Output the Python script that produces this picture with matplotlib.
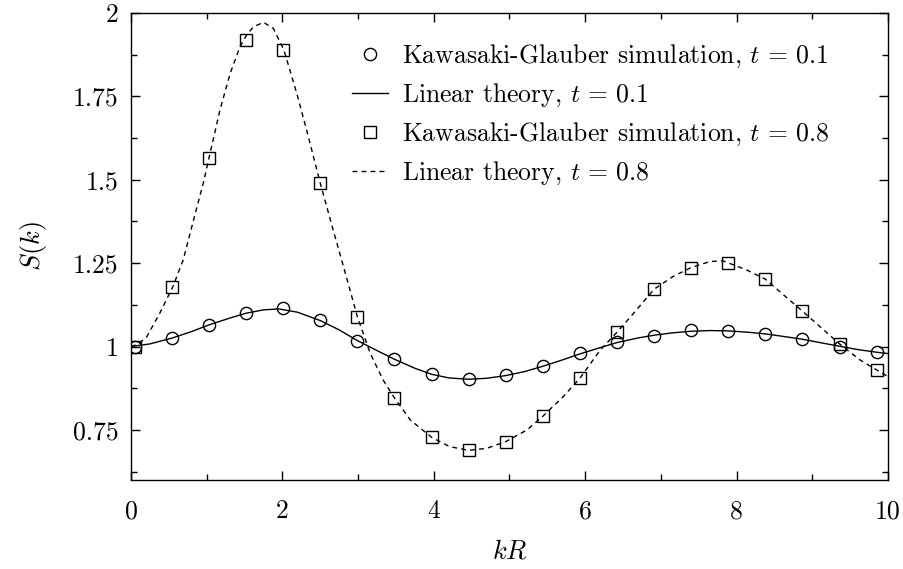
import matplotlib
matplotlib.use("Agg")
import matplotlib.pyplot as plt
from matplotlib.ticker import MultipleLocator

plt.rcParams['font.family'] = 'serif'
plt.rcParams['font.serif'] = ['cmr10']
plt.rcParams['mathtext.fontset'] = 'cm'
plt.rcParams['axes.unicode_minus'] = False
plt.rcParams['axes.formatter.use_mathtext'] = True

# simulation points
k_sim = [0.05, 0.54, 1.03, 1.52, 2.01, 2.50, 2.99, 3.48, 3.97, 4.46, 4.95,
         5.44, 5.93, 6.42, 6.91, 7.40, 7.89, 8.38, 8.87, 9.36, 9.85]
s_sim_01 = [1.0, 1.027, 1.066, 1.101, 1.115, 1.079, 1.016, 0.962, 0.917, 0.903, 0.915,
            0.941, 0.980, 1.013, 1.032, 1.050, 1.046, 1.039, 1.023, 1.0, 0.983]
s_sim_08 = [1.0, 1.178, 1.565, 1.919, 1.889, 1.49, 1.090, 0.846, 0.728, 0.689, 0.715,
            0.791, 0.905, 1.043, 1.172, 1.237, 1.250, 1.202, 1.106, 1.008, 0.929]

# linear theory curves
k_th_01 = [0.0, 0.25, 0.55, 0.8, 1.03, 1.3, 1.52, 1.75, 1.95, 2.2, 2.5, 2.75, 2.99,
           3.25, 3.48, 3.75, 3.97, 4.2, 4.46, 4.7, 4.95, 5.2, 5.44, 5.7, 5.93, 6.2,
           6.42, 6.7, 6.91, 7.15, 7.40, 7.65, 7.89, 8.15, 8.38, 8.6, 8.87, 9.1, 9.36,
           9.6, 9.85, 10.0]
s_th_01 = [1.0, 1.008, 1.026, 1.045, 1.065, 1.085, 1.100, 1.110, 1.113, 1.103, 1.078,
           1.050, 1.018, 0.988, 0.962, 0.935, 0.917, 0.906, 0.902, 0.905, 0.913, 0.925,
           0.941, 0.960, 0.978, 0.997, 1.012, 1.026, 1.034, 1.041, 1.046, 1.048, 1.047,
           1.043, 1.038, 1.031, 1.022, 1.012, 1.001, 0.991, 0.983, 0.979]

k_th_08 = [0.0, 0.1, 0.21, 0.38, 0.55, 0.69, 0.85, 0.955, 1.03, 1.175, 1.31, 1.44,
           1.53, 1.62, 1.75, 1.88, 2.02, 2.19, 2.32, 2.50, 2.67, 2.85, 2.99, 3.16,
           3.33, 3.48, 3.69, 3.97, 4.21, 4.46, 4.70, 4.95, 5.23, 5.44, 5.71, 5.93,
           6.20, 6.42, 6.64, 6.91, 7.16, 7.40, 7.65, 7.82, 8.13, 8.38, 8.62, 8.87,
           9.10, 9.36, 9.63, 9.85, 10.0]
s_th_08 = [1.0, 1.008, 1.03, 1.10, 1.178, 1.26, 1.40, 1.49, 1.565, 1.709, 1.819, 1.899,
           1.935, 1.959, 1.972, 1.954, 1.889, 1.759, 1.649, 1.49, 1.35, 1.205, 1.09,
           0.98, 0.90, 0.846, 0.78, 0.728, 0.70, 0.689, 0.695, 0.715, 0.75, 0.791,
           0.85, 0.905, 0.99, 1.043, 1.10, 1.172, 1.21, 1.237, 1.255, 1.257, 1.23,
           1.202, 1.155, 1.106, 1.06, 1.008, 0.96, 0.93, 0.91]

labels = [r"Kawasaki-Glauber simulation, $t\,=\,0.1$",
          r"Linear theory, $t\,=\,0.1$",
          r"Kawasaki-Glauber simulation, $t\,=\,0.8$",
          r"Linear theory, $t\,=\,0.8$"]

FS = 18.5

fig = plt.figure(figsize=(9.04, 5.69), dpi=100)
ax = fig.add_axes([131/904, 1-480/569, (888-131)/904, (480-13)/569])

h1, = ax.plot(k_sim, s_sim_01, linestyle='none', marker='o', ms=8.8,
              mfc='none', mec='black', mew=1.0, label=labels[0])
h2, = ax.plot(k_th_01, s_th_01, color='black', lw=1.0, label=labels[1])
h3, = ax.plot(k_sim, s_sim_08, linestyle='none', marker='s', ms=8.4,
              mfc='none', mec='black', mew=1.0, label=labels[2])
h4, = ax.plot(k_th_08, s_th_08, color='black', lw=1.0, dashes=(3.5, 3.0), label=labels[3])

ax.set_xlim(0, 10)
ax.set_ylim(0.6, 2.0)
ax.xaxis.set_minor_locator(MultipleLocator(1))
ax.yaxis.set_minor_locator(MultipleLocator(0.125))
ax.tick_params(which='both', direction='in', top=True, right=True, width=1.0)
ax.tick_params(which='major', length=6.7, labelsize=FS)
ax.tick_params(axis='x', which='major', pad=14)
ax.tick_params(axis='y', which='major', pad=9)
ax.tick_params(which='minor', length=4.0)
for sp in ax.spines.values():
    sp.set_linewidth(1.0)

ax.set_yticks([0.75, 1.0, 1.25, 1.5, 1.75, 2.0])
ax.set_yticklabels(['0.75', '1', '1.25', '1.5', '1.75', '2'])
ax.set_xticks([0, 2, 4, 6, 8, 10])
ax.set_xticklabels(['0', '2', '4', '6', '8', '10'])

ax.set_xlabel('$kR$', fontsize=FS + 0.5, labelpad=12)
ax.set_ylabel('$S(k)$', fontsize=FS + 0.5, labelpad=17)

leg = ax.legend(handles=[h1, h2, h3, h4], loc='upper left',
                bbox_to_anchor=(351.7/904, 1 - 43/569), bbox_transform=fig.transFigure,
                frameon=False, fontsize=FS, handlelength=1.42, handletextpad=0.55,
                labelspacing=0.45, borderpad=0.0, borderaxespad=0.0, numpoints=1)

fig.savefig('out.png', dpi=100)
